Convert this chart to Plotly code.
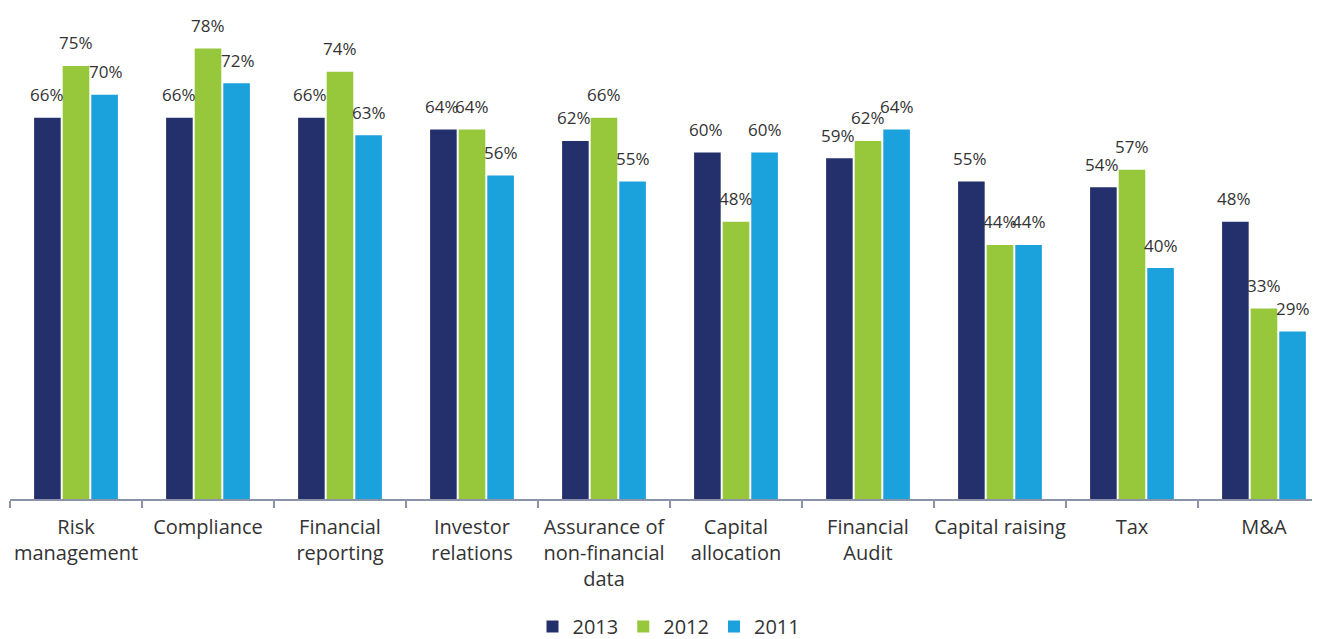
import plotly.graph_objects as go

categories = ["Risk<br>management", "Compliance", "Financial<br>reporting", "Investor<br>relations",
              "Assurance of<br>non-financial<br>data", "Capital<br>allocation", "Financial<br>Audit",
              "Capital raising", "Tax", "M&A"]
years = ["2013", "2012", "2011"]
v2013 = [66, 66, 66, 64, 62, 60, 59, 55, 54, 48]
v2012 = [75, 78, 74, 64, 66, 48, 62, 44, 57, 33]
v2011 = [70, 72, 63, 56, 55, 60, 64, 44, 40, 29]
colors = ["#24306b", "#97c83c", "#1ba1db"]

FONT = "Open Sans"
series = [v2013, v2012, v2011]

fig = go.Figure()
for name, vals, col in zip(years, series, colors):
    fig.add_trace(go.Bar(x=categories, y=vals, name=name, marker=dict(color=col, line=dict(width=0))))

# value labels above bars
for i, vals in enumerate(series):
    for cat, v in zip(categories, vals):
        fig.add_annotation(x=cat, y=v, xref="x", yref="y", text=f"{v}%", showarrow=False,
                           xshift=(i - 1) * 29.5, yshift=23,
                           font=dict(family=FONT, size=17, color="#333333"))

# page body adds 8px margin, so the figure is nudged up/left
fig.update_layout(
    width=1320, height=639,
    margin=dict(l=2, r=0, t=29, b=148),
    paper_bgcolor="white", plot_bgcolor="white",
    barmode="group", bargap=0.35, bargroupgap=0.07,
    font=dict(family=FONT, size=18, color="#333333"),
    showlegend=True,
    legend=dict(orientation="h", x=0.5, xanchor="center", yref="container", y=0.032, yanchor="middle",
                font=dict(size=20), itemwidth=30, traceorder="normal"),
    xaxis=dict(showline=True, linecolor="#8a93a8", linewidth=1.5, ticks="outside",
               tickson="boundaries", ticklen=7, tickcolor="#8a93a8", tickwidth=1.5,
               tickfont=dict(size=20), tickangle=0, showgrid=False, automargin=False,
               range=[-0.5, 9.485], ticklabelstandoff=9),
    yaxis=dict(range=[0, 80], visible=False, showgrid=False, automargin=False),
)

fig.write_html("out.html")
